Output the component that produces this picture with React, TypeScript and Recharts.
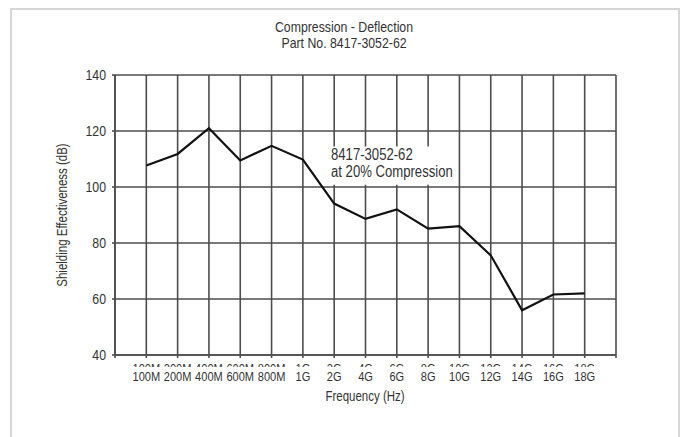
import React from 'react';
import { LineChart, Line, XAxis, YAxis, CartesianGrid, ReferenceArea } from 'recharts';

const freqLabels = ['100M', '200M', '400M', '600M', '800M', '1G', '2G', '4G', '6G', '8G', '10G', '12G', '14G', '16G', '18G'];
const shielding = [107.7, 111.8, 121, 109.5, 114.7, 109.8, 94.1, 88.6, 92, 85.1, 86, 75.6, 56, 61.6, 62];
const yTicks = [40, 60, 80, 100, 120, 140];

const data = freqLabels.map((f, i) => ({ idx: i + 1, freq: f, se: shielding[i] }));
const xTicks = Array.from({ length: freqLabels.length + 2 }, (_, i) => i);

const FONT = '"Liberation Sans", Arial, sans-serif';
const SQ = 0.82; // squeeze regular sans into a narrow face
const INK = '#333';
const GRID = '#4d4d4d';

function FreqTick(props: any) {
  const { x, y, payload } = props;
  const label = freqLabels[payload.value - 1];
  if (!label) return null;
  const id = `ghost-${payload.value}`;
  return (
    <g>
      <clipPath id={id}>
        <rect x={x - 30} y={y} width={60} height={7} />
      </clipPath>
      <g clipPath={`url(#${id})`}>
        <text transform={`translate(${x},${y + 13}) scale(${SQ},1)`} textAnchor="middle" fontSize={13.5} fill={INK} fontFamily={FONT}>
          {label}
        </text>
      </g>
      <text transform={`translate(${x},${y + 21}) scale(${SQ},1)`} textAnchor="middle" fontSize={13.5} fill={INK} fontFamily={FONT}>
        {label}
      </text>
    </g>
  );
}

function SeTick(props: any) {
  const { x, y, payload } = props;
  return (
    <text transform={`translate(${x - 4},${y + 5}) scale(${SQ},1)`} textAnchor="end" fontSize={15} fill={INK} fontFamily={FONT}>
      {payload.value}
    </text>
  );
}

const squeeze = (extra = ''): React.CSSProperties => ({
  position: 'absolute',
  whiteSpace: 'nowrap',
  color: INK,
  transform: `translate(-50%, -50%) ${extra} scaleX(${SQ})`,
});

export default function App() {
  return (
    <div style={{ position: 'absolute', left: 0, top: 0, width: 685, height: 437, background: '#fff', overflow: 'hidden', fontFamily: FONT }}>
      <div style={{ position: 'absolute', left: 10, top: 8, width: 666, height: 440, border: '2px solid #d6d6d6' }} />
      <div style={{ ...squeeze(), left: 344, top: 26, fontSize: 15 }}>Compression - Deflection</div>
      <div style={{ ...squeeze(), left: 344, top: 42, fontSize: 15 }}>Part No. 8417-3052-62</div>
      <div style={{ position: 'absolute', left: 0, top: 0 }}>
        <LineChart width={685} height={437} data={data} margin={{ top: 75, right: 69, bottom: 22, left: 60 }}>
          <CartesianGrid stroke={GRID} strokeWidth={1.6} />
          <XAxis
            dataKey="idx"
            type="number"
            domain={[0, 16]}
            ticks={xTicks}
            interval={0}
            axisLine={{ stroke: GRID, strokeWidth: 1.6 }}
            tickLine={{ stroke: GRID, strokeWidth: 1.6 }}
            tickSize={3}
            tick={<FreqTick />}
            height={60}
          />
          <YAxis
            type="number"
            domain={[40, 140]}
            ticks={yTicks}
            axisLine={{ stroke: GRID, strokeWidth: 1.6 }}
            tickLine={{ stroke: GRID, strokeWidth: 1.6 }}
            tickSize={3}
            tick={<SeTick />}
            width={55}
          />
          <ReferenceArea x1={6.8} x2={10.95} y1={100.8} y2={114.5} fill="#fff" fillOpacity={1} stroke="none" ifOverflow="visible" />
          <Line dataKey="se" stroke="#111" strokeWidth={2.2} dot={false} isAnimationActive={false} />
        </LineChart>
      </div>
      <div style={{ ...squeeze(), left: 365, top: 396, fontSize: 14 }}>Frequency (Hz)</div>
      <div style={{ ...squeeze('rotate(-90deg)'), left: 62, top: 215, fontSize: 14 }}>Shielding Effectiveness (dB)</div>
      <div style={{ position: 'absolute', left: 331, top: 146, fontSize: 16, lineHeight: '17px', color: INK, whiteSpace: 'nowrap', transform: `scaleX(${SQ})`, transformOrigin: '0 0' }}>
        <div>8417-3052-62</div>
        <div>at 20% Compression</div>
      </div>
    </div>
  );
}
